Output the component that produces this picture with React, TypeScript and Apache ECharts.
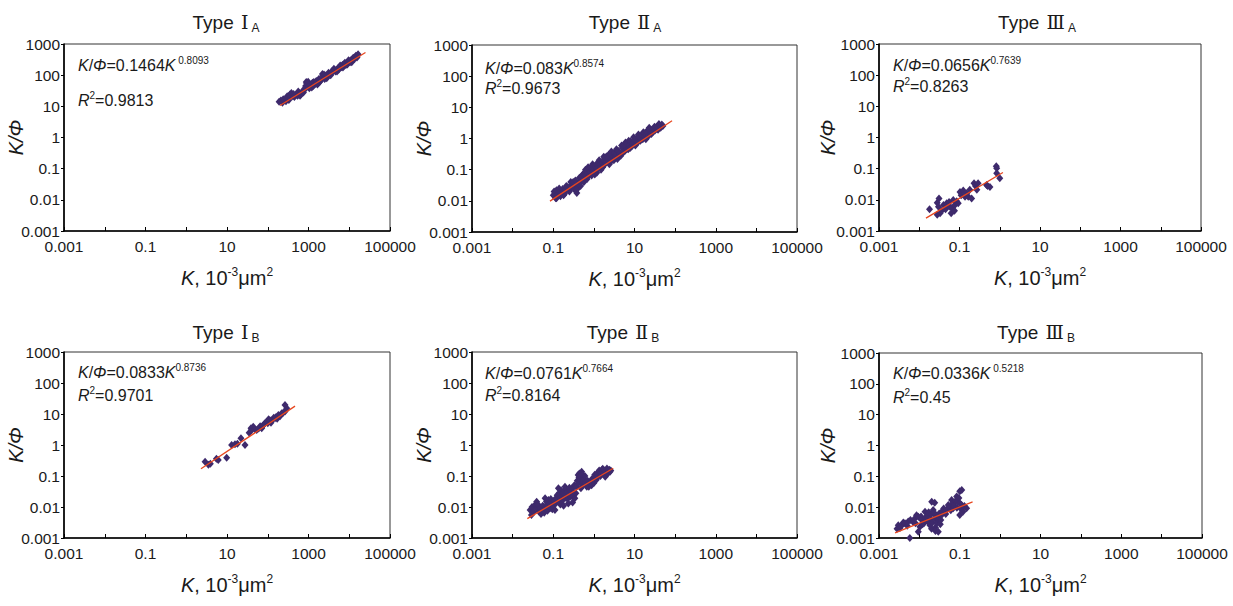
import React, { useEffect, useRef } from 'react';
import * as echarts from 'echarts';

// ---------- data ----------
const X_TICK_LABELS = ['0.001', '', '0.1', '', '10', '', '1000', '', '100000'];
const Y_TICK_LABELS = ['0.001', '0.01', '0.1', '1', '10', '100', '1000'];

const NUMERALS = ['Ⅰ', 'Ⅱ', 'Ⅲ', 'Ⅰ', 'Ⅱ', 'Ⅲ'];
const SUBS = ['A', 'A', 'A', 'B', 'B', 'B'];
const COEFS = ['0.1464', '0.083', '0.0656', '0.0833', '0.0761', '0.0336'];
const EXPS = [' 0.8093', '0.8574', '0.7639', '0.8736', '0.7664', ' 0.5218'];
const R2 = ['0.9813', '0.9673', '0.8263', '0.9701', '0.8164', '0.45'];

const PTS_IA = [
  [190, 14], [210, 15.5], [230, 13], [240, 17], [260, 16], [280, 14.5], [300, 21], [320, 19], [330, 16],
  [350, 24], [380, 27], [410, 21], [430, 25], [450, 20], [500, 24], [540, 22], [560, 30], [600, 26],
  [620, 22], [650, 24], [700, 30], [750, 28], [780, 33], [820, 38], [850, 45], [880, 60], [900, 55],
  [950, 50], [980, 62], [1000, 42], [1050, 38], [1100, 48], [1200, 40], [1250, 57], [1300, 45], [1350, 60],
  [1400, 50], [1450, 52], [1550, 65], [1600, 58], [1650, 50], [1750, 55], [1800, 75], [1900, 62],
  [2000, 68], [2100, 75], [2200, 110], [2250, 95], [2400, 105], [2500, 75], [2600, 85], [2700, 100],
  [2800, 80], [3000, 95], [3100, 120], [3300, 110], [3500, 100], [3600, 118], [3800, 135], [4000, 130],
  [4200, 160], [4400, 140], [4600, 130], [4800, 150], [5000, 130], [5200, 165], [5500, 150], [5700, 175],
  [6000, 205], [6200, 190], [6500, 180], [6800, 210], [7000, 175], [7200, 220], [7400, 200], [7800, 250],
  [8000, 230], [8300, 210], [8700, 250], [9000, 220], [9300, 270], [9600, 300], [10000, 280], [10500, 260],
  [11000, 300], [11500, 260], [11800, 310], [12000, 330], [12500, 360], [13000, 350], [13500, 330],
  [14000, 380], [14500, 420], [15000, 400], [15500, 370], [16000, 430], [16500, 470],
];
const PTS_IIA = [
  [0.1, 0.015], [0.105, 0.02], [0.11, 0.018], [0.115, 0.012], [0.12, 0.022], [0.12, 0.012], [0.13, 0.016],
  [0.14, 0.019], [0.14, 0.025], [0.15, 0.014], [0.16, 0.018], [0.17, 0.024], [0.18, 0.02], [0.18, 0.015],
  [0.19, 0.017], [0.2, 0.022], [0.21, 0.03], [0.22, 0.028], [0.24, 0.025], [0.25, 0.02], [0.26, 0.03],
  [0.27, 0.04], [0.28, 0.027], [0.3, 0.033], [0.31, 0.04], [0.32, 0.025], [0.34, 0.03], [0.35, 0.045],
  [0.36, 0.021], [0.38, 0.018], [0.4, 0.025], [0.42, 0.035], [0.44, 0.055], [0.45, 0.04], [0.47, 0.03],
  [0.48, 0.05], [0.5, 0.06], [0.52, 0.045], [0.53, 0.07], [0.55, 0.07], [0.57, 0.04], [0.58, 0.055],
  [0.6, 0.08], [0.62, 0.1], [0.63, 0.065], [0.66, 0.09], [0.68, 0.05], [0.7, 0.075], [0.72, 0.12],
  [0.74, 0.1], [0.78, 0.07], [0.8, 0.11], [0.82, 0.085], [0.86, 0.12], [0.88, 0.065], [0.9, 0.095],
  [0.93, 0.15], [0.95, 0.13], [0.97, 0.09], [1.0, 0.1], [1.05, 0.07], [1.08, 0.13], [1.1, 0.085],
  [1.15, 0.15], [1.18, 0.08], [1.2, 0.11], [1.25, 0.14], [1.3, 0.17], [1.35, 0.2], [1.4, 0.13],
  [1.45, 0.15], [1.5, 0.1], [1.6, 0.16], [1.65, 0.12], [1.7, 0.2], [1.75, 0.26], [1.8, 0.14], [1.9, 0.25],
  [2.0, 0.18], [2.1, 0.27], [2.2, 0.22], [2.3, 0.3], [2.4, 0.15], [2.5, 0.2], [2.6, 0.3], [2.7, 0.38],
  [2.8, 0.2], [3.0, 0.26], [3.1, 0.2], [3.2, 0.35], [3.3, 0.24], [3.5, 0.3], [3.6, 0.45], [3.8, 0.22],
  [4.0, 0.4], [4.2, 0.27], [4.3, 0.33], [4.6, 0.28], [4.8, 0.6], [5.0, 0.5], [5.2, 0.35], [5.4, 0.6],
  [5.8, 0.4], [6.0, 0.75], [6.2, 0.55], [6.4, 0.45], [6.6, 0.7], [7.0, 0.45], [7.2, 0.85], [7.5, 0.62],
  [7.8, 0.5], [8.0, 0.8], [8.5, 0.55], [9.0, 0.7], [9.5, 1.1], [10, 0.9], [10.5, 0.6], [11, 1.0],
  [11.5, 0.8], [12, 0.75], [12.5, 1.35], [13, 1.1], [14, 0.85], [14.5, 1.0], [15, 1.3], [16, 0.95],
  [16.5, 1.6], [17, 1.5], [18, 1.15], [19, 1.3], [19, 0.95], [20, 1.7], [21, 1.5], [22, 1.2], [23, 2.2],
  [24, 1.9], [26, 1.4], [27, 1.9], [28, 1.6], [30, 2.1], [31, 2.4], [32, 1.8], [35, 2.4], [36, 2.0],
  [38, 1.9], [40, 2.9], [41, 2.6], [44, 2.2], [45, 2.5], [47, 2.8], [50, 2.5],
];
const PTS_IIIA = [
  [0.018, 0.005], [0.028, 0.008], [0.03, 0.006], [0.031, 0.011], [0.028, 0.0033], [0.033, 0.0037],
  [0.036, 0.0045], [0.04, 0.0068], [0.045, 0.005], [0.048, 0.0077], [0.052, 0.0065], [0.055, 0.0085],
  [0.058, 0.006], [0.062, 0.0037], [0.065, 0.0055], [0.07, 0.0099], [0.075, 0.0045], [0.077, 0.0068],
  [0.085, 0.009], [0.093, 0.0077], [0.103, 0.018], [0.11, 0.014], [0.124, 0.02], [0.137, 0.0126],
  [0.15, 0.016], [0.165, 0.0126], [0.18, 0.021], [0.2, 0.011], [0.23, 0.034], [0.25, 0.028], [0.27, 0.021],
  [0.29, 0.034], [0.47, 0.03], [0.5, 0.028], [0.57, 0.026], [0.82, 0.12], [0.84, 0.103], [0.84, 0.071],
  [1.0, 0.049],
];
const PTS_IB = [
  [2.9, 0.29], [3.5, 0.23], [3.9, 0.25], [5.5, 0.36], [6.1, 0.33], [9.8, 0.39], [13, 1.0], [15.7, 1.05],
  [18, 1.1], [22, 1.64], [27.7, 1.0], [35, 2.5], [38.8, 3.46], [40, 3.0], [44, 3.9], [48, 3.2], [53.5, 3.05],
  [60, 3.4], [65, 4.0], [71, 3.46], [75, 4.2], [80, 4.5], [85, 5.0], [94, 5.6], [100, 5.0], [105, 6.8],
  [113, 6.3], [120, 5.2], [130, 6.5], [140, 7.5], [151, 7.3], [160, 8.0], [170, 7.0], [182, 9.3],
  [200, 8.5], [220, 10.5], [240, 11], [265, 19.5], [265, 12], [292, 15.3],
];
const PTS_IIB = [
  [0.027, 0.008], [0.029, 0.0055], [0.03, 0.01], [0.033, 0.007], [0.0356, 0.0116], [0.039, 0.0148],
  [0.04, 0.009], [0.042, 0.012], [0.045, 0.007], [0.048, 0.0095], [0.05, 0.006], [0.055, 0.011],
  [0.057, 0.008], [0.06, 0.0065], [0.063, 0.019], [0.065, 0.009], [0.068, 0.015], [0.07, 0.012],
  [0.072, 0.0075], [0.076, 0.0168], [0.08, 0.013], [0.083, 0.0091], [0.087, 0.018], [0.09, 0.014],
  [0.095, 0.0085], [0.1, 0.0116], [0.105, 0.016], [0.11, 0.008], [0.115, 0.013], [0.12, 0.02],
  [0.125, 0.024], [0.13, 0.017], [0.134, 0.04], [0.14, 0.028], [0.147, 0.019], [0.15, 0.012],
  [0.155, 0.035], [0.16, 0.0148], [0.165, 0.022], [0.17, 0.017], [0.175, 0.028], [0.18, 0.011],
  [0.185, 0.033], [0.194, 0.045], [0.2, 0.02], [0.205, 0.038], [0.21, 0.024], [0.22, 0.03], [0.225, 0.018],
  [0.235, 0.013], [0.24, 0.026], [0.25, 0.042], [0.26, 0.035], [0.27, 0.022], [0.28, 0.031], [0.29, 0.04],
  [0.3, 0.014], [0.31, 0.022], [0.32, 0.03], [0.33, 0.05], [0.34, 0.019], [0.36, 0.028], [0.37, 0.045],
  [0.39, 0.07], [0.41, 0.108], [0.42, 0.06], [0.43, 0.09], [0.44, 0.12], [0.45, 0.08], [0.47, 0.1],
  [0.48, 0.04], [0.5, 0.138], [0.52, 0.11], [0.53, 0.05], [0.55, 0.065], [0.58, 0.08], [0.6, 0.1],
  [0.62, 0.06], [0.67, 0.045], [0.7, 0.07], [0.73, 0.055], [0.75, 0.045], [0.8, 0.058], [0.85, 0.065],
  [0.88, 0.05], [0.9, 0.08], [0.97, 0.074], [1.0, 0.06], [1.05, 0.11], [1.1, 0.09], [1.15, 0.075],
  [1.2, 0.12], [1.25, 0.095], [1.3, 0.138], [1.35, 0.15], [1.45, 0.1], [1.5, 0.13], [1.57, 0.156],
  [1.65, 0.17], [1.75, 0.12], [1.8, 0.15], [1.9, 0.095], [2.0, 0.14], [2.1, 0.176], [2.2, 0.12],
  [2.3, 0.15], [2.4, 0.16], [2.5, 0.138], [2.6, 0.15],
];
const PTS_IIIB = [
  [0.0028, 0.002], [0.003, 0.0026], [0.0033, 0.0021], [0.0035, 0.0024], [0.004, 0.0032], [0.0044, 0.003],
  [0.005, 0.0025], [0.0053, 0.0034], [0.0058, 0.001], [0.006, 0.0038], [0.007, 0.0033], [0.0078, 0.0044],
  [0.008, 0.003], [0.0085, 0.0055], [0.0094, 0.0049], [0.0094, 0.0016], [0.0103, 0.0023], [0.011, 0.005],
  [0.0114, 0.0038], [0.012, 0.0028], [0.013, 0.003], [0.0138, 0.0071], [0.014, 0.0045], [0.015, 0.004],
  [0.016, 0.0035], [0.0166, 0.0056], [0.017, 0.0068], [0.0183, 0.0026], [0.019, 0.004], [0.02, 0.006],
  [0.02, 0.002], [0.0202, 0.015], [0.021, 0.0032], [0.022, 0.0081], [0.023, 0.0065], [0.024, 0.014],
  [0.0243, 0.0044], [0.025, 0.0022], [0.025, 0.0017], [0.026, 0.0055], [0.0268, 0.003], [0.028, 0.0048],
  [0.0294, 0.0016], [0.03, 0.004], [0.031, 0.0062], [0.033, 0.0028], [0.034, 0.0038], [0.0356, 0.0056],
  [0.037, 0.0075], [0.04, 0.009], [0.043, 0.0071], [0.045, 0.006], [0.048, 0.0085], [0.052, 0.0117],
  [0.055, 0.0095], [0.06, 0.008], [0.063, 0.017], [0.065, 0.013], [0.069, 0.0092], [0.07, 0.011],
  [0.075, 0.011], [0.08, 0.016], [0.084, 0.022], [0.085, 0.0095], [0.09, 0.015], [0.095, 0.02],
  [0.1, 0.0133], [0.1, 0.0056], [0.1, 0.033], [0.105, 0.009], [0.11, 0.012], [0.112, 0.036], [0.12, 0.0071],
  [0.13, 0.011], [0.148, 0.0092],
];

const TREND_IA = [[200, 10.66], [25000, 531]];
const TREND_IIA = [[0.083, 0.0098], [84, 3.71]];
const TREND_IIIA = [[0.0147, 0.0026], [1.2, 0.075]];
const TREND_IB = [[2.3, 0.172], [467, 17.9]];
const TREND_IIB = [[0.023, 0.0042], [3.0, 0.178]];
const TREND_IIIB = [[0.0025, 0.00147], [0.208, 0.0148]];

const POINTS = [PTS_IA, PTS_IIA, PTS_IIIA, PTS_IB, PTS_IIB, PTS_IIIB];
const TRENDS = [TREND_IA, TREND_IIA, TREND_IIIA, TREND_IB, TREND_IIB, TREND_IIIB];

// ---------- layout ----------
const GRIDS = [
  { left: 64, top: 44, width: 326, height: 187 },
  { left: 472, top: 45, width: 325, height: 187 },
  { left: 879, top: 44, width: 322, height: 187 },
  { left: 64, top: 352, width: 326, height: 186 },
  { left: 472, top: 352, width: 325, height: 186 },
  { left: 879, top: 353, width: 323, height: 185 },
];
const TITLE_POS = [[226, 22], [625, 22], [1037, 22], [226, 332], [623, 332], [1036, 332]];
const EQ_POS = [[78, 65, 100], [485, 68, 88], [893, 65, 86], [78, 372, 395], [485, 373, 395], [893, 373, 397]];
const Y_NAME_GAP = [37, 37, 40, 37, 37, 40];

const FONT = "'Liberation Sans', Arial, sans-serif";
const INK = '#1a1a1a';
const DOT = '#3e2a6c';
const FIT = '#e8461e';

function expIndex(v: number): number {
  return Math.round(Math.log10(v));
}

export default function App() {
  const ref = useRef<HTMLDivElement>(null);
  useEffect(() => {
    if (!ref.current) return;
    const chart = echarts.init(ref.current, undefined, { renderer: 'svg' });

    const eqRich = {
      i: { fontStyle: 'italic', fontSize: 16, fontFamily: FONT, fill: INK, lineHeight: 20 },
      n: { fontSize: 16, fontFamily: FONT, fill: INK, lineHeight: 20 },
      p: { fontSize: 10, fontFamily: FONT, fill: INK, lineHeight: 10, verticalAlign: 'top' },
    };
    const titleRich = {
      t: { fontSize: 19, fontFamily: FONT, fill: INK, lineHeight: 24 },
      r: { fontSize: 19, fontFamily: "'DejaVu Serif', 'Liberation Serif', serif", fill: INK, lineHeight: 24, padding: [0, 3, 0, 2] },
      s: { fontSize: 12, fontFamily: FONT, fill: INK, lineHeight: 12, verticalAlign: 'bottom' },
    };

    const graphic: any[] = [];
    GRIDS.forEach((_, i) => {
      graphic.push({
        type: 'text', x: TITLE_POS[i][0], y: TITLE_POS[i][1], z: 100,
        style: {
          text: `{t|Type }{r|${NUMERALS[i]}}{s|${SUBS[i]}}`,
          align: 'center', verticalAlign: 'middle', fill: INK, rich: titleRich,
        },
      });
      graphic.push({
        type: 'text', x: EQ_POS[i][0], y: EQ_POS[i][1], z: 100,
        style: {
          text: `{i|K}{n|/}{i|Φ}{n|=${COEFS[i]}}{i|K}{p|${EXPS[i]}}`,
          align: 'left', verticalAlign: 'middle', fill: INK, rich: eqRich,
        },
      });
      graphic.push({
        type: 'text', x: EQ_POS[i][0], y: EQ_POS[i][2], z: 100,
        style: {
          text: `{i|R}{p|2}{n|=${R2[i]}}`,
          align: 'left', verticalAlign: 'middle', fill: INK, rich: eqRich,
        },
      });
    });

    const axisNameRich = {
      i: { fontStyle: 'italic', fontSize: 20, fontFamily: FONT, color: INK, lineHeight: 24 },
      n: { fontSize: 20, fontFamily: FONT, color: INK, lineHeight: 24 },
      p: { fontSize: 12, fontFamily: FONT, color: INK, lineHeight: 12, verticalAlign: 'top' },
    };

    const option: any = {
      animation: false,
      backgroundColor: '#fff',
      textStyle: { fontFamily: FONT },
      grid: GRIDS.map((g) => ({
        ...g, show: true, borderColor: '#333', borderWidth: 1, backgroundColor: 'transparent',
        containLabel: false, outerBoundsMode: 'none',
      })),
      xAxis: GRIDS.map((_, i) => ({
        type: 'log', logBase: 10, gridIndex: i, min: 0.001, max: 100000, splitNumber: 8,
        axisLine: { show: true, onZero: false, lineStyle: { color: '#000', width: 1.6 } },
        axisTick: { show: true, inside: true, length: 4, lineStyle: { color: '#000', width: 1 } },
        minorTick: { show: false },
        splitLine: { show: false },
        axisLabel: {
          fontSize: 15.5, color: INK, margin: 7, fontFamily: FONT, showMinLabel: true, showMaxLabel: true,
          formatter: (v: number) => X_TICK_LABELS[expIndex(v) + 3] ?? '',
        },
        name: '{i|K}{n|, 10}{p|-3}{n|μm}{p|2}',
        nameLocation: 'middle', nameGap: 35, nameMoveOverlap: false,
        nameTextStyle: { fontSize: 20, color: INK, fontFamily: FONT, rich: axisNameRich },
      })),
      yAxis: GRIDS.map((_, i) => ({
        type: 'log', logBase: 10, gridIndex: i, min: 0.001, max: 1000, splitNumber: 6,
        axisLine: { show: true, onZero: false, lineStyle: { color: '#000', width: 1.6 } },
        axisTick: { show: true, inside: false, length: 3, lineStyle: { color: '#000', width: 1 } },
        minorTick: { show: false },
        splitLine: { show: false },
        axisLabel: {
          fontSize: 15.5, color: INK, margin: 4, fontFamily: FONT, showMinLabel: true, showMaxLabel: true,
          formatter: (v: number) => Y_TICK_LABELS[expIndex(v) + 3] ?? '',
        },
        name: 'K/Φ',
        nameLocation: 'middle', nameGap: Y_NAME_GAP[i], nameMoveOverlap: false,
        nameTextStyle: { fontSize: 20, fontStyle: 'italic', color: INK, fontFamily: FONT, lineHeight: 22 },
      })),
      series: GRIDS.flatMap((_, i) => [
        {
          type: 'scatter', xAxisIndex: i, yAxisIndex: i, data: POINTS[i],
          symbol: 'diamond', symbolSize: [7, 8], itemStyle: { color: DOT, opacity: 1 }, z: 2,
        },
        {
          type: 'line', xAxisIndex: i, yAxisIndex: i, data: TRENDS[i], symbol: 'none',
          lineStyle: { color: FIT, width: 1.3 }, z: 3,
        },
      ]),
      graphic,
    };

    chart.setOption(option);
    return () => chart.dispose();
  }, []);

  return (
    <div
      ref={ref}
      style={{ position: 'absolute', left: 0, top: 0, width: 1233, height: 606, background: '#fff' }}
    />
  );
}
